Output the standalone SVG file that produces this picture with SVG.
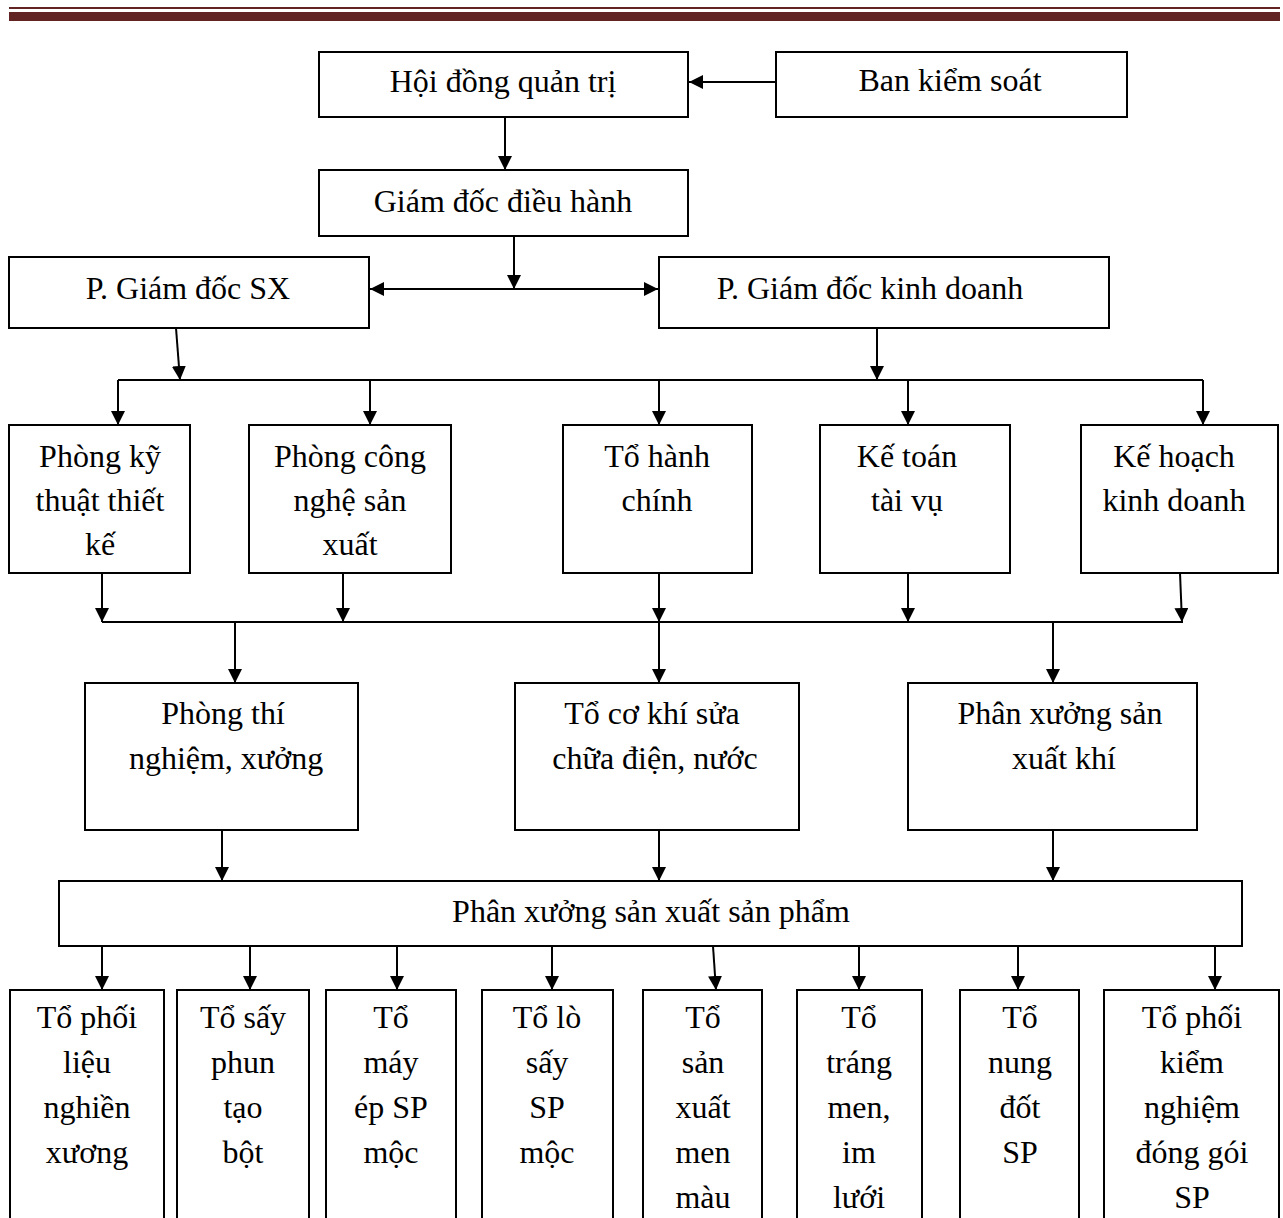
<svg xmlns="http://www.w3.org/2000/svg" width="1283" height="1218" viewBox="0 0 1283 1218">
  <style>
    .box { fill: #ffffff; stroke: #000000; stroke-width: 2; }
    .lbl { font-family: "Liberation Serif", "Times New Roman", serif; font-size: 32px; fill: #000000; text-anchor: middle; }
    .ln { fill: none; stroke: #000000; stroke-width: 2; }
    .ar { fill: none; stroke: #000000; stroke-width: 2; marker-end: url(#head); }
  </style>
  <defs>
    <marker id="head" markerUnits="userSpaceOnUse" markerWidth="14" markerHeight="14" refX="14" refY="7" orient="auto-start-reverse">
      <path d="M0,0 L14,7 L0,14 z" fill="#000000"/>
    </marker>
  </defs>
  <rect width="1283" height="1218" fill="#ffffff"/>

  <!-- page header rule -->
  <g id="header">
    <rect x="9" y="7" width="1271" height="2" fill="#622423"/>
    <rect x="9" y="12" width="1271" height="9" fill="#622423"/>
  </g>

  <!-- connectors -->
  <g id="connectors">
    <path class="ar" d="M776,82 H689"/>
    <path class="ar" d="M505,117 V170"/>
    <path class="ar" d="M514,236 V289"/>
    <path class="ln" d="M370,289 H658" marker-start="url(#head)" marker-end="url(#head)"/>

    <path class="ar" d="M176,328 L180,380"/>
    <path class="ar" d="M877,328 V380"/>
    <path class="ln" d="M118,380 H1203"/>
    <path class="ar" d="M118,380 V425"/>
    <path class="ar" d="M370,380 V425"/>
    <path class="ar" d="M659,380 V425"/>
    <path class="ar" d="M908,380 V425"/>
    <path class="ar" d="M1203,380 V425"/>

    <path class="ar" d="M102,573 V622"/>
    <path class="ar" d="M343,573 V622"/>
    <path class="ar" d="M659,573 V622"/>
    <path class="ar" d="M908,573 V622"/>
    <path class="ar" d="M1180,573 L1182,622"/>
    <path class="ln" d="M102,622 H1183"/>
    <path class="ar" d="M235,622 V683"/>
    <path class="ar" d="M659,622 V683"/>
    <path class="ar" d="M1053,622 V683"/>

    <path class="ar" d="M222,830 V881"/>
    <path class="ar" d="M659,830 V881"/>
    <path class="ar" d="M1053,830 V881"/>

    <path class="ar" d="M102,946 V990"/>
    <path class="ar" d="M250,946 V990"/>
    <path class="ar" d="M397,946 V990"/>
    <path class="ar" d="M552,946 V990"/>
    <path class="ar" d="M713,946 L716,990"/>
    <path class="ar" d="M859,946 V990"/>
    <path class="ar" d="M1018,946 V990"/>
    <path class="ar" d="M1215,946 V990"/>
  </g>

  <!-- top management -->
  <g id="hdqt">
    <rect class="box" x="319" y="52" width="369" height="65"/>
    <text class="lbl" x="503" y="92">Hội đồng quản trị</text>
  </g>
  <g id="bks">
    <rect class="box" x="776" y="52" width="351" height="65"/>
    <text class="lbl" x="950" y="91">Ban kiểm soát</text>
  </g>
  <g id="gddh">
    <rect class="box" x="319" y="170" width="369" height="66"/>
    <text class="lbl" x="503" y="212">Giám đốc điều hành</text>
  </g>
  <g id="pgd-sx">
    <rect class="box" x="9" y="257" width="360" height="71"/>
    <text class="lbl" x="188" y="299">P. Giám đốc SX</text>
  </g>
  <g id="pgd-kd">
    <rect class="box" x="659" y="257" width="450" height="71"/>
    <text class="lbl" x="870" y="299">P. Giám đốc kinh doanh</text>
  </g>

  <!-- departments -->
  <g id="p-ktk">
    <rect class="box" x="9" y="425" width="181" height="148"/>
    <text class="lbl" x="100" y="467">Phòng kỹ</text>
    <text class="lbl" x="100" y="511">thuật thiết</text>
    <text class="lbl" x="100" y="555">kế</text>
  </g>
  <g id="p-cnsx">
    <rect class="box" x="249" y="425" width="202" height="148"/>
    <text class="lbl" x="350" y="467">Phòng công</text>
    <text class="lbl" x="350" y="511">nghệ sản</text>
    <text class="lbl" x="350" y="555">xuất</text>
  </g>
  <g id="t-hc">
    <rect class="box" x="563" y="425" width="189" height="148"/>
    <text class="lbl" x="657" y="467">Tổ hành</text>
    <text class="lbl" x="657" y="511">chính</text>
  </g>
  <g id="kttv">
    <rect class="box" x="820" y="425" width="190" height="148"/>
    <text class="lbl" x="907" y="467">Kế toán</text>
    <text class="lbl" x="907" y="511">tài vụ</text>
  </g>
  <g id="khkd">
    <rect class="box" x="1081" y="425" width="197" height="148"/>
    <text class="lbl" x="1174" y="467">Kế hoạch</text>
    <text class="lbl" x="1174" y="511">kinh doanh</text>
  </g>

  <!-- support units -->
  <g id="ptn">
    <rect class="box" x="85" y="683" width="273" height="147"/>
    <text class="lbl" x="223" y="724">Phòng thí</text>
    <text class="lbl" x="226" y="769">nghiệm, xưởng</text>
  </g>
  <g id="tck">
    <rect class="box" x="515" y="683" width="284" height="147"/>
    <text class="lbl" x="652" y="724">Tổ cơ khí sửa</text>
    <text class="lbl" x="655" y="769">chữa điện, nước</text>
  </g>
  <g id="pxk">
    <rect class="box" x="908" y="683" width="289" height="147"/>
    <text class="lbl" x="1060" y="724">Phân xưởng sản</text>
    <text class="lbl" x="1064" y="769">xuất khí</text>
  </g>

  <!-- product workshop -->
  <g id="pxsp">
    <rect class="box" x="59" y="881" width="1183" height="65"/>
    <text class="lbl" x="651" y="922">Phân xưởng sản xuất sản phẩm</text>
  </g>

  <!-- production teams -->
  <g id="t1">
    <rect class="box" x="10" y="990" width="154" height="240"/>
    <text class="lbl" x="87" y="1028">Tổ phối</text>
    <text class="lbl" x="87" y="1073">liệu</text>
    <text class="lbl" x="87" y="1118">nghiền</text>
    <text class="lbl" x="87" y="1163">xương</text>
  </g>
  <g id="t2">
    <rect class="box" x="177" y="990" width="132" height="240"/>
    <text class="lbl" x="243" y="1028">Tổ sấy</text>
    <text class="lbl" x="243" y="1073">phun</text>
    <text class="lbl" x="243" y="1118">tạo</text>
    <text class="lbl" x="243" y="1163">bột</text>
  </g>
  <g id="t3">
    <rect class="box" x="326" y="990" width="130" height="240"/>
    <text class="lbl" x="391" y="1028">Tổ</text>
    <text class="lbl" x="391" y="1073">máy</text>
    <text class="lbl" x="391" y="1118">ép SP</text>
    <text class="lbl" x="391" y="1163">mộc</text>
  </g>
  <g id="t4">
    <rect class="box" x="482" y="990" width="131" height="240"/>
    <text class="lbl" x="547" y="1028">Tổ lò</text>
    <text class="lbl" x="547" y="1073">sấy</text>
    <text class="lbl" x="547" y="1118">SP</text>
    <text class="lbl" x="547" y="1163">mộc</text>
  </g>
  <g id="t5">
    <rect class="box" x="643" y="990" width="119" height="240"/>
    <text class="lbl" x="703" y="1028">Tổ</text>
    <text class="lbl" x="703" y="1073">sản</text>
    <text class="lbl" x="703" y="1118">xuất</text>
    <text class="lbl" x="703" y="1163">men</text>
    <text class="lbl" x="703" y="1208">màu</text>
  </g>
  <g id="t6">
    <rect class="box" x="797" y="990" width="125" height="240"/>
    <text class="lbl" x="859" y="1028">Tổ</text>
    <text class="lbl" x="859" y="1073">tráng</text>
    <text class="lbl" x="859" y="1118">men,</text>
    <text class="lbl" x="859" y="1163">im</text>
    <text class="lbl" x="859" y="1208">lưới</text>
  </g>
  <g id="t7">
    <rect class="box" x="960" y="990" width="119" height="240"/>
    <text class="lbl" x="1020" y="1028">Tổ</text>
    <text class="lbl" x="1020" y="1073">nung</text>
    <text class="lbl" x="1020" y="1118">đốt</text>
    <text class="lbl" x="1020" y="1163">SP</text>
  </g>
  <g id="t8">
    <rect class="box" x="1104" y="990" width="175" height="240"/>
    <text class="lbl" x="1192" y="1028">Tổ phối</text>
    <text class="lbl" x="1192" y="1073">kiểm</text>
    <text class="lbl" x="1192" y="1118">nghiệm</text>
    <text class="lbl" x="1192" y="1163">đóng gói</text>
    <text class="lbl" x="1192" y="1208">SP</text>
  </g>
</svg>
